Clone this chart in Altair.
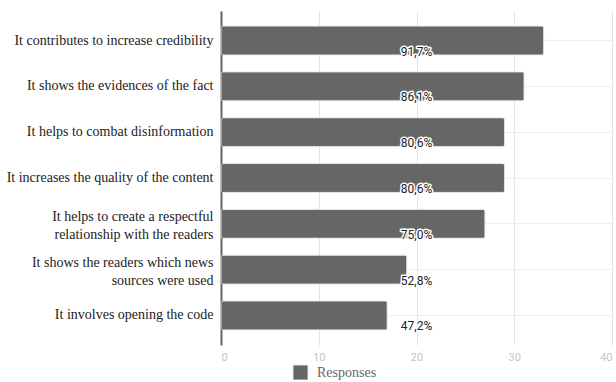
import altair as alt
import pandas as pd

categories = [
    "It contributes to increase credibility",
    "It shows the evidences of the fact",
    "It helps to combat disinformation",
    "It increases the quality of the content",
    "It helps to create a respectful\nrelationship with the readers",
    "It shows the readers which news\nsources were used",
    "It involves opening the code",
]
responses = [33, 31, 29, 29, 27, 19, 17]
pct_labels = ["91,7%", "86,1%", "80,6%", "80,6%", "75,0%", "52,8%", "47,2%"]
x_ticks = [0, 10, 20, 30, 40]
label_pos = 20

SERIF = "Liberation Serif"

df = pd.DataFrame({
    "cat": categories,
    "Responses": responses,
    "pct": pct_labels,
    "series": ["Responses"] * len(categories),
})

y_enc = alt.Y(
    "cat:N",
    sort=categories,
    title=None,
    scale=alt.Scale(paddingInner=0.37, paddingOuter=0.33),
    axis=alt.Axis(
        labelExpr="split(datum.label, '\\n')",
        labelFont=SERIF,
        labelFontSize=14,
        labelColor="#222222",
        labelLineHeight=18,
        labelPadding=8,
        labelLimit=300,
        labelOffset={"condition": {"test": "indexof(datum.label, '\\n') >= 0", "value": -7}, "value": 0},
        ticks=False,
        domain=True,
        domainColor="#666666",
        domainWidth=2,
        grid=True,
        gridColor="#eeeeee",
        bandPosition=0.5,
    ),
)

bars = alt.Chart(df).mark_bar(
    color="#666666", cornerRadius=2, stroke="#dddddd", strokeWidth=0.6
).encode(
    x=alt.X(
        "Responses:Q",
        scale=alt.Scale(domain=[0, 40]),
        title=None,
        axis=alt.Axis(
            values=x_ticks,
            labelFont="Roboto",
            labelFontSize=11,
            labelColor="#c4c4c4",
            labelPadding=6,
            ticks=False,
            domain=False,
            grid=True,
            gridColor="#e4e4e4",
        ),
    ),
    y=y_enc,
    fill=alt.Fill(
        "series:N",
        scale=alt.Scale(range=["#666666"]),
        legend=alt.Legend(
            title=None,
            orient="none",
            legendX=72,
            legendY=354,
            symbolType="square",
            symbolSize=200,
            symbolStrokeColor="#999999",
            symbolStrokeWidth=0.5,
            labelOffset=9,
            labelFont=SERIF,
            labelFontSize=14,
            labelColor="#666666",
        ),
    ),
)

halo = alt.Chart(df).mark_text(
    font="Roboto", fontSize=12, dy=11, stroke="white", strokeWidth=3,
    strokeJoin="round", fill="white", align="center", baseline="middle",
).encode(x=alt.datum(label_pos), y=alt.Y("cat:N", sort=categories), text="pct:N")

txt = alt.Chart(df).mark_text(
    font="Roboto", fontSize=12, dy=11, color="#222222",
    align="center", baseline="middle",
).encode(x=alt.datum(label_pos), y=alt.Y("cat:N", sort=categories), text="pct:N")

chart = (bars + halo + txt).properties(
    width=391,
    height=334,
    autosize=alt.AutoSizeParams(type="none"),
    padding={"left": 221, "top": 11, "right": 4, "bottom": 37},
).configure_view(stroke=None)

chart.save("out.html", embed_options={"renderer": "svg", "actions": False})
